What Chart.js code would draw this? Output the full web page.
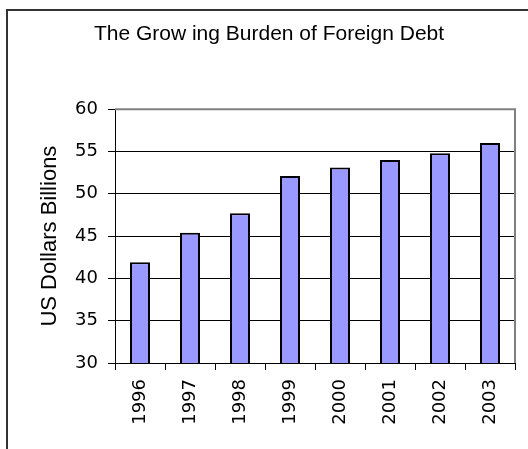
<!DOCTYPE html>
<html>
<head>
<meta charset="utf-8">
<script src="https://cdn.jsdelivr.net/npm/chart.js@4"></script>
<style>
  html, body { margin: 0; padding: 0; background: #fff; overflow: hidden; }
  #wrap { position: relative; width: 528px; height: 449px; }
  #frame {
    position: absolute; left: 6px; top: 9px; width: 600px; height: 500px;
    border-left: 2px solid #333; border-top: 2px solid #333;
  }
  #debt-chart { position: absolute; left: 0; top: 0; }
</style>
</head>
<body>
<div id="wrap">
  <div id="frame"></div>
  <canvas id="debt-chart" width="528" height="449"></canvas>
</div>
<script>
// ─── Data ───────────────────────────────────────────────────

const years = ['1996', '1997', '1998', '1999', '2000', '2001', '2002', '2003'];
const debtBillions = [41.9, 45.4, 47.7, 52.1, 53.1, 54.0, 54.8, 56.0];
const yTicks = [30, 35, 40, 45, 50, 55, 60];

const FONT = '"Liberation Sans", Arial, sans-serif';
const TICK_FONT = '"DejaVu Sans", Verdana, sans-serif';

// ─── Plot area border (top + right, grey like Excel) ────────

const plotBorder = {
  id: 'plotBorder',
  afterDraw(chart) {
    const { ctx, chartArea: a } = chart;
    ctx.save();
    ctx.strokeStyle = '#808080';
    ctx.lineWidth = 2;
    ctx.beginPath();
    ctx.moveTo(a.left, a.top);
    ctx.lineTo(a.right, a.top);
    ctx.lineTo(a.right, a.bottom);
    ctx.stroke();
    ctx.restore();
  },
};

// ─── Chart ──────────────────────────────────────────────────

new Chart(document.getElementById('debt-chart'), {
  type: 'bar',
  data: {
    labels: years,
    datasets: [{
      data: debtBillions,
      backgroundColor: '#9999FF',
      borderColor: '#000',
      borderWidth: 2,
      borderSkipped: false,
      barPercentage: 0.4,
      categoryPercentage: 1.0,
    }],
  },
  options: {
    responsive: false,
    devicePixelRatio: 1,
    animation: false,
    layout: { padding: { left: 23, right: 13, top: 0, bottom: 0 } },
    plugins: {
      legend: { display: false },
      tooltip: { enabled: false },
      title: {
        display: true,
        text: 'The Grow ing Burden of Foreign Debt',
        color: '#000',
        font: { family: FONT, size: 21, weight: 'normal' },
        padding: { top: 22, bottom: 62 },
      },
    },
    scales: {
      y: {
        min: 30,
        max: 60,
        afterBuildTicks: scale => { scale.ticks = yTicks.map(v => ({ value: v })); },
        afterFit: scale => { scale.width = 92; },
        ticks: {
          color: '#000',
          padding: 10,
          font: { family: TICK_FONT, size: 18 },
        },
        grid: {
          color: ctx => (ctx.tick && ctx.tick.value === 60 ? '#808080' : '#000'),
          tickColor: '#000',
          tickLength: 7,
          lineWidth: 1,
        },
        border: { color: '#000', width: 1 },
        title: {
          display: true,
          text: 'US Dollars Billions',
          color: '#000',
          font: { family: FONT, size: 22 },
          padding: { top: 14, bottom: 0 },
        },
      },
      x: {
        afterFit: scale => { scale.height = 86; },
        ticks: {
          color: '#000',
          padding: 9,
          maxRotation: 90,
          minRotation: 90,
          font: { family: TICK_FONT, size: 18 },
        },
        grid: {
          drawOnChartArea: false,
          offset: true,
          color: '#000',
          tickLength: 7,
        },
        border: { color: '#000', width: 1 },
      },
    },
  },
  plugins: [plotBorder],
});
</script>
</body>
</html>
